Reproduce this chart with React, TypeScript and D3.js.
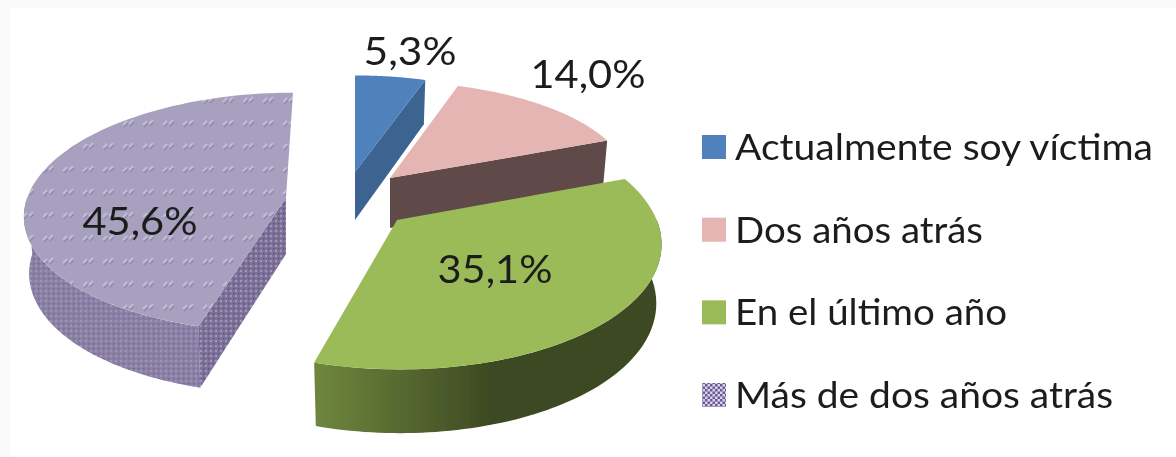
import React from "react";
import * as d3 from "d3";

const categories = ["Actualmente soy víctima", "Dos años atrás", "En el último año", "Más de dos años atrás"];
const percentages = [5.3, 14.0, 35.1, 45.6];
const percentLabels = ["5,3%", "14,0%", "35,1%", "45,6%"];

// Visual layout, separate from the data
const topColors = ["#4f81bd", "#e4b5b3", "#9bbb59", "url(#purpleTop)"];
const faceColors = ["#3c6391", "#604a4a", "#5a6f33", "url(#purpleCut)"];
const apexX = [355, 390, 397, 286];
const apexY = [172, 178, 220, 198];
const scaleXk = [0.88, 0.91, 0.98, 0.977];
const baseRy = [113, 113, 124, 118];
const perspX = [0.09, 0.09, 0.18, 0.13];
const perspY = [0.17, 0.17, 0.17, 0.12];
const leanX = [0, 5, 3, -7];
const depths = [48, 50, 58, 56];
const cutEdge: ("start" | "end" | null)[] = ["end", "end", null, "start"];
const hasRim = [false, false, true, true];
const rimColors = ["", "", "url(#greenRim)", "url(#purpleRim)"];
const labelX = [410, 588, 495, 140];
const labelY = [50, 73, 268, 220];
const labelWidth = [93, 115, 115, 115];
const legendWidth = [418, 248, 272, 378];

const W = 1176, H = 457;
const RX = 265, DEPTH_PERSP = 0.09;

const arcs = d3.pie<number>().sort(null).value((d) => d)(percentages);

function project(i: number, a: number, bottom = false): [number, number] {
  const u = Math.sin(a), v = -Math.cos(a);
  const s = 1 / (1 - perspX[i] * v);
  let x = apexX[i] + RX * scaleXk[i] * u * s + leanX[i] * v;
  let y = apexY[i] + (baseRy[i] * v) / (1 - perspY[i] * v);
  if (bottom) {
    x = apexX[i] + (x - apexX[i]) * 0.98;
    y += depths[i] / (1 - DEPTH_PERSP * v);
  }
  return [x, y];
}

const line = d3.line<[number, number]>();
const angles = (a0: number, a1: number) => {
  const n = 80;
  return d3.range(n + 1).map((k) => a0 + ((a1 - a0) * k) / n);
};

function topPath(i: number) {
  const { startAngle, endAngle } = arcs[i];
  const pts: [number, number][] = [[apexX[i], apexY[i]], ...angles(startAngle, endAngle).map((a) => project(i, a))];
  return line(pts) + "Z";
}
function cutPath(i: number) {
  const edge = cutEdge[i];
  if (!edge) return null;
  const a = edge === "start" ? arcs[i].startAngle : arcs[i].endAngle;
  const apexBottom: [number, number] = [apexX[i], apexY[i] + depths[i]];
  return line([[apexX[i], apexY[i]], project(i, a), project(i, a, true), apexBottom]) + "Z";
}
function rimPath(i: number) {
  if (!hasRim[i]) return null;
  const { startAngle, endAngle } = arcs[i];
  // Only the half of the rim that faces the viewer is visible
  const a0 = Math.max(startAngle, Math.PI / 2);
  const a1 = Math.min(endAngle, (3 * Math.PI) / 2);
  const seq = angles(a0, a1);
  return line([...seq.map((a) => project(i, a)), ...seq.slice().reverse().map((a) => project(i, a, true))]) + "Z";
}

const legendY = d3.scalePoint<string>().domain(categories).range([146, 394]);
const drawOrder = [3, 0, 1, 2];
const FONT = "Lato, 'Noto Sans', sans-serif";

export default function App() {
  return (
    <svg
      width={W}
      height={H}
      viewBox={`0 0 ${W} ${H}`}
      style={{ position: "absolute", left: 0, top: 0, display: "block" }}
    >
      <defs>
        <filter id="soft" x="-5%" y="-5%" width="110%" height="110%">
          <feGaussianBlur stdDeviation="0.7" />
        </filter>
        <linearGradient id="greenRim" gradientUnits="userSpaceOnUse" x1="319" x2="490" y1="0" y2="0">
          <stop offset="0" stopColor="#6e853d" />
          <stop offset="1" stopColor="#3e4a22" />
        </linearGradient>
        <pattern id="purpleTop" patternUnits="userSpaceOnUse" width="20" height="23">
          <rect width="20" height="23" fill="#a8a0bf" />
          <path d="M3 10l4-4M9 9l4-4" stroke="#c2bcd3" strokeWidth="2" fill="none" />
          <path d="M4 12l4-4M10 11l4-4" stroke="#9188ad" strokeWidth="1.2" fill="none" />
        </pattern>
        <pattern id="purpleRim" patternUnits="userSpaceOnUse" width="5" height="5">
          <rect width="5" height="5" fill="#8b80a6" />
          <rect x="0" y="0" width="2" height="2" fill="#9d93b6" />
          <rect x="3" y="3" width="1.5" height="1.5" fill="#75698f" />
        </pattern>
        <pattern id="purpleCut" patternUnits="userSpaceOnUse" width="5" height="5">
          <rect width="5" height="5" fill="#7d7199" />
          <rect x="0" y="0" width="2" height="2" fill="#a097b8" />
          <rect x="3" y="3" width="1.5" height="1.5" fill="#62567f" />
        </pattern>
        <pattern id="legendCheck" patternUnits="userSpaceOnUse" width="5" height="5">
          <rect width="5" height="5" fill="#d9d3e6" />
          <rect width="2.5" height="2.5" fill="#6a5a98" />
          <rect x="2.5" y="2.5" width="2.5" height="2.5" fill="#6a5a98" />
        </pattern>
      </defs>
      <rect width={W} height={H} fill="#f9f9f9" />
      <rect x={10} y={8} width={W - 10} height={H - 8} fill="#ffffff" />
      <g filter="url(#soft)">
        {drawOrder.map((i) => (
          <g key={categories[i]}>
            {rimPath(i) && <path d={rimPath(i)!} fill={rimColors[i]} />}
            {cutPath(i) && <path d={cutPath(i)!} fill={faceColors[i]} />}
            <path d={topPath(i)} fill={topColors[i]} />
          </g>
        ))}
        {percentLabels.map((t, i) => (
          <text
            key={t}
            x={labelX[i]}
            y={labelY[i]}
            textAnchor="middle"
            dominantBaseline="central"
            fontFamily={FONT}
            fontSize={38}
            fill="#1c1c1c"
            textLength={labelWidth[i]}
            lengthAdjust="spacingAndGlyphs"
          >
            {t}
          </text>
        ))}
        {categories.map((c, i) => (
          <g key={c} transform={`translate(0,${legendY(c)})`}>
            <rect x={702} y={-11} width={24} height={24} fill={i === 3 ? "url(#legendCheck)" : topColors[i]} />
            <text
              x={735}
              y={0}
              dominantBaseline="central"
              fontFamily={FONT}
              fontSize={36}
              fill="#1c1c1c"
              textLength={legendWidth[i]}
              lengthAdjust="spacingAndGlyphs"
            >
              {c}
            </text>
          </g>
        ))}
      </g>
    </svg>
  );
}
